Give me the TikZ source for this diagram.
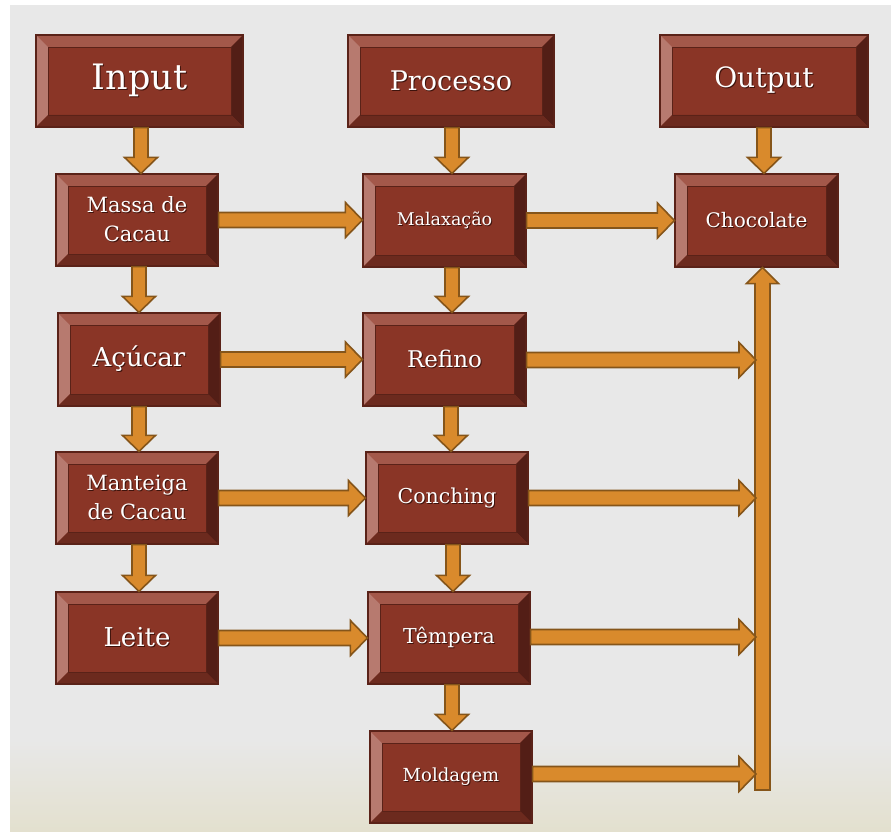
\documentclass[tikz,border=0pt]{standalone}
\usepackage{fontspec}
\setmainfont{DejaVu Serif}
\usetikzlibrary{calc}
\definecolor{bgg}{HTML}{E8E8E8}
\definecolor{bgb}{HTML}{E3E0CE}
\definecolor{face}{HTML}{8A3526}
\definecolor{btop}{HTML}{A3584A}
\definecolor{bleft}{HTML}{B77A6F}
\definecolor{bright}{HTML}{531E16}
\definecolor{bbot}{HTML}{6C2A1E}
\definecolor{bedge}{HTML}{5A2218}
\definecolor{aor}{HTML}{D98A2C}
\definecolor{aline}{HTML}{85551A}
\definecolor{tshade}{HTML}{3E130C}
\newcommand\bevw{12pt}
\newcommand\ts[1]{\leavevmode\rlap{\kern1pt\raisebox{-1pt}{\color{tshade}#1}}#1}
\tikzset{
  choc/.style={draw=bedge, line width=1.2pt, fill=face, text=white,
    minimum width=162pt, minimum height=92pt, inner sep=0pt, align=center,
    path picture={
      \fill[btop] (path picture bounding box.north west) -- (path picture bounding box.north east)
        -- ([shift={(-\bevw,-\bevw)}]path picture bounding box.north east)
        -- ([shift={(\bevw,-\bevw)}]path picture bounding box.north west) -- cycle;
      \fill[bleft] (path picture bounding box.north west) -- (path picture bounding box.south west)
        -- ([shift={(\bevw,\bevw)}]path picture bounding box.south west)
        -- ([shift={(\bevw,-\bevw)}]path picture bounding box.north west) -- cycle;
      \fill[bright] (path picture bounding box.north east) -- (path picture bounding box.south east)
        -- ([shift={(-\bevw,\bevw)}]path picture bounding box.south east)
        -- ([shift={(-\bevw,-\bevw)}]path picture bounding box.north east) -- cycle;
      \fill[bbot] (path picture bounding box.south west) -- (path picture bounding box.south east)
        -- ([shift={(-\bevw,\bevw)}]path picture bounding box.south east)
        -- ([shift={(\bevw,\bevw)}]path picture bounding box.south west) -- cycle;
      \draw[bedge, line width=0.9pt] ([shift={(\bevw,-\bevw)}]path picture bounding box.north west)
        rectangle ([shift={(-\bevw,\bevw)}]path picture bounding box.south east);
    }},
  barrow/.style={fill=aor, draw=aline, line width=1.6pt, line join=miter},
}
% vertical arrow: source, target, x in px
\newcommand\varrow[3]{%
  \draw[barrow] let \p1=(#1.south), \p2=(#2.north), \p3=(#3,0) in
  (\x3-7pt,\y1) -- (\x3-7pt,\y2+16pt) -- (\x3-16.5pt,\y2+16pt) -- (\x3,\y2)
  -- (\x3+16.5pt,\y2+16pt) -- (\x3+7pt,\y2+16pt) -- (\x3+7pt,\y1) -- cycle;}
% horizontal arrow node to node
\newcommand\harrow[2]{%
  \draw[barrow] let \p1=(#1.east), \p2=(#2.west) in
  (\x1,\y1+7.5pt) -- (\x2-17pt,\y1+7.5pt) -- (\x2-17pt,\y1+17.5pt) -- (\x2,\y1)
  -- (\x2-17pt,\y1-17.5pt) -- (\x2-17pt,\y1-7.5pt) -- (\x1,\y1-7.5pt) -- cycle;}
% horizontal arrow node to coordinate (y taken from the coordinate)
\newcommand\harrowc[2]{%
  \draw[barrow] let \p1=(#1.east), \p2=(#2) in
  (\x1,\y2+7.5pt) -- (\x2-17pt,\y2+7.5pt) -- (\x2-17pt,\y2+17.5pt) -- (\x2,\y2)
  -- (\x2-17pt,\y2-17.5pt) -- (\x2-17pt,\y2-7.5pt) -- (\x1,\y2-7.5pt) -- cycle;}
\begin{document}
\begin{tikzpicture}[x=1pt,y=-1pt]
\useasboundingbox (0,0) rectangle (891,832);
\fill[white] (0,0) rectangle (891,832);
\fill[bgg] (10,5) rectangle (891,832);
\shade[top color=bgg, bottom color=bgb] (10,740) rectangle (891,832);

% header row
\node[choc, minimum width=207pt, font=\fontsize{35}{40}\selectfont] (input) at (139.5,81) {\ts{Input}};
\node[choc, minimum width=206pt, font=\fontsize{27}{32}\selectfont] (proc) at (451,81) {\ts{Processo}};
\node[choc, minimum width=208pt, font=\fontsize{28}{32}\selectfont] (out) at (764,81) {\ts{Output}};

% left column
\node[choc, font=\fontsize{21}{29}\selectfont] (massa) at (137,220) {\ts{Massa de}\\\ts{Cacau}};
\node[choc, minimum height=93pt, font=\fontsize{26}{30}\selectfont] (acucar) at (139,359.5) {\ts{Açúcar}};
\node[choc, font=\fontsize{21}{29}\selectfont] (mant) at (137,498) {\ts{Manteiga}\\\ts{de Cacau}};
\node[choc, font=\fontsize{26}{30}\selectfont] (leite) at (137,638) {\ts{Leite}};

% middle column
\node[choc, minimum width=163pt, minimum height=93pt, font=\fontsize{17.5}{22}\selectfont] (malax) at (444.5,220.5) {\ts{Malaxação}};
\node[choc, minimum width=163pt, minimum height=93pt, font=\fontsize{23}{28}\selectfont] (refino) at (444.5,359.5) {\ts{Refino}};
\node[choc, font=\fontsize{20.5}{25}\selectfont] (conch) at (447,498) {\ts{Conching}};
\node[choc, font=\fontsize{20.5}{25}\selectfont] (temp) at (449,638) {\ts{Têmpera}};
\node[choc, font=\fontsize{18}{22}\selectfont] (mold) at (451,777) {\ts{Moldagem}};

% right column
\node[choc, minimum width=163pt, minimum height=93pt, font=\fontsize{20}{24}\selectfont] (choc) at (756.5,220.5) {\ts{Chocolate}};

% bus coordinates
\coordinate (busb) at (762.5,790);
\coordinate (bin2) at (756,360);
\coordinate (bin3) at (756,498);
\coordinate (bin4) at (756,637);
\coordinate (bin5) at (756,774);

% vertical arrows
\varrow{input}{massa}{141}
\varrow{massa}{acucar}{139}
\varrow{acucar}{mant}{139}
\varrow{mant}{leite}{139}
\varrow{proc}{malax}{452}
\varrow{malax}{refino}{452}
\varrow{refino}{conch}{451}
\varrow{conch}{temp}{453}
\varrow{temp}{mold}{452}
\varrow{out}{choc}{764}

% bus arrow up to Chocolate
\draw[barrow] let \p1=(busb), \p2=(choc.south) in
  (\x1-7.5pt,\y1) -- (\x1-7.5pt,\y2-16pt) -- (\x1-16pt,\y2-16pt) -- (\x1,\y2)
  -- (\x1+16pt,\y2-16pt) -- (\x1+7.5pt,\y2-16pt) -- (\x1+7.5pt,\y1) -- cycle;

% horizontal arrows
\harrow{massa}{malax}
\harrow{malax}{choc}
\harrow{acucar}{refino}
\harrow{mant}{conch}
\harrow{leite}{temp}
\harrowc{refino}{bin2}
\harrowc{conch}{bin3}
\harrowc{temp}{bin4}
\harrowc{mold}{bin5}
\end{tikzpicture}
\end{document}
